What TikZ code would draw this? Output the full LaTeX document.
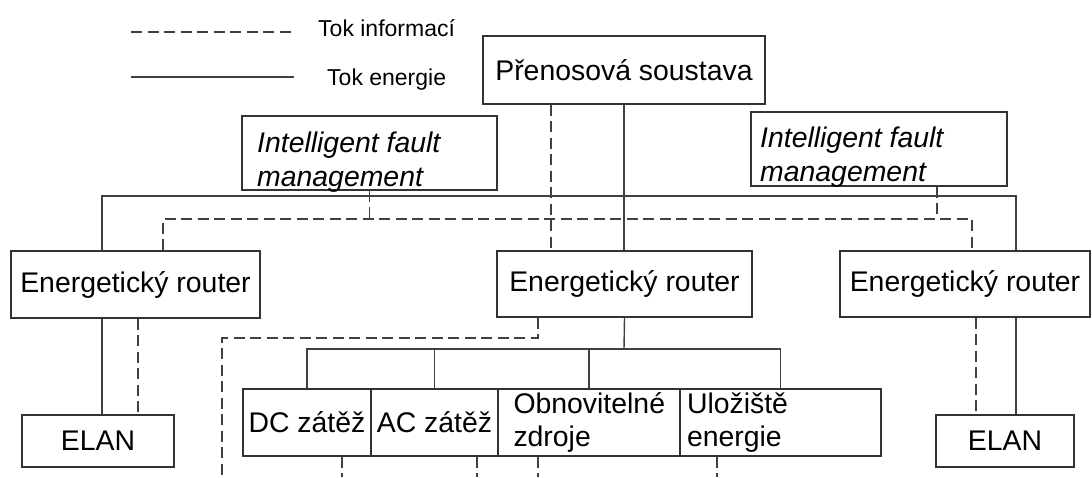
\documentclass[tikz,border=0pt]{standalone}
\usepackage{fontspec}
\setmainfont{Liberation Sans}
\begin{document}
\begin{tikzpicture}[x=1pt, y=-1pt,
    % Define styles - plain boxes, solid energy lines, dashed information lines
    box/.style={rectangle, draw=black!80, line width=1.4pt, inner sep=0pt, font=\fontsize{28.4}{33}\selectfont, align=center},
    ifmbox/.style={box, minimum width=256pt, minimum height=74pt},
    ifmtext/.style={inner sep=0pt, anchor=west, align=left, font=\fontsize{28.4}{34}\selectfont\itshape},
    router/.style={box, minimum height=67pt},
    elan/.style={box, minimum height=52pt},
    load/.style={box, minimum height=67pt},
    energy/.style={draw=black!75, line width=1.4pt},
    info/.style={energy, dash pattern=on 11pt off 5.5pt},
    legend/.style={inner sep=0pt, anchor=west, font=\fontsize{23}{28}\selectfont}
]
\useasboundingbox (0,0) rectangle (1092,477);

% Legend
\coordinate (infoA) at (131,32);
\coordinate (infoB) at (294,32);
\coordinate (energyA) at (131,77);
\coordinate (energyB) at (294,77);
\draw[info] (infoA) -- (infoB);
\draw[energy] (energyA) -- (energyB);
\node[legend] (infoText) at (318,28) {Tok informací};
\node[legend] (energyText) at (327,80) {Tok energie};

% Transmission system
\node[box, minimum width=282pt, minimum height=68pt] (grid) at (624,70) {Přenosová soustava};

% Fault management
\node[ifmbox, minimum width=255pt] (ifmLeft) at (369.5,153) {};
\node[ifmtext] (ifmLeftText) at (257,162) {Intelligent fault\\management};
\node[ifmbox] (ifmRight) at (879,149) {};
\node[ifmtext] (ifmRightText) at (760,157) {Intelligent fault\\management};

% Energy routers
\node[router, minimum width=249pt] (routerLeft) at (135.5,284.5) {Energetický router};
\node[router, minimum width=255pt, minimum height=66pt] (routerMid) at (624.5,284) {Energetický router};
\node[router, minimum width=250pt, minimum height=66pt] (routerRight) at (965,284) {Energetický router};

% Local networks
\node[elan, minimum width=152pt] (elanLeft) at (98,441) {ELAN};
\node[elan, minimum width=138pt] (elanRight) at (1005,441) {ELAN};

% Loads, sources and storage
\node[load, minimum width=128pt] (dcLoad) at (307,422.5) {DC zátěž};
\node[load, minimum width=127pt] (acLoad) at (434.5,422.5) {AC zátěž};
\node[load, minimum width=182pt, text width=151pt, align=left] (renew) at (589,422.5) {Obnovitelné\\zdroje};
\node[load, minimum width=201pt, text width=187pt, inner xsep=7pt, align=left] (storage) at (780.5,422.5) {Uložiště\\energie};

% Tap points
\coordinate (eLeft) at (102,196);
\coordinate (eRight) at (1016,196);
\coordinate (iLeft) at (163,219);
\coordinate (iRight) at (972,219);
\coordinate (ifmTap) at (937,219);
\coordinate (gridInfo) at (551,219);
\coordinate (elanLInfo) at (138,441);
\coordinate (elanRInfo) at (976,441);
\coordinate (busMid) at (624,349);
\coordinate (midInfo) at (538,338);
\coordinate (cutLeft) at (222,477);
\coordinate (cutDC) at (342,477);
\coordinate (cutAC) at (477,477);
\coordinate (cutRenew) at (538,477);
\coordinate (cutStorage) at (717,477);

% Energy flow
\draw[energy] (grid.south) -- (grid.south |- routerMid.north);
\draw[energy] (routerLeft.north -| eLeft) -- (eLeft) -- (eRight) -- (routerRight.north -| eRight);
\draw[energy] (routerLeft.south -| eLeft) -- (elanLeft.north -| eLeft);
\draw[energy] (routerRight.south -| eRight) -- (elanRight.north -| eRight);
\draw[energy] (routerMid.south) -- (busMid);
\draw[energy] (dcLoad.north) -- (dcLoad.north |- busMid) -- (storage.north |- busMid) -- (storage.north);
\draw[energy] (acLoad.north) -- (acLoad.north |- busMid);
\draw[energy] (renew.north) -- (renew.north |- busMid);

% Information flow
\draw[info] (grid.south -| gridInfo) -- (routerMid.north -| gridInfo);
\draw[info] (routerLeft.north -| iLeft) -- (iLeft) -- (iRight) -- (routerRight.north -| iRight);
\draw[info] (ifmLeft.south) -- (ifmLeft.south |- iLeft);
\draw[info] (ifmRight.south -| ifmTap) -- (ifmTap);
\draw[info] (routerLeft.south -| elanLInfo) -- (elanLeft.north -| elanLInfo);
\draw[info] (routerRight.south -| elanRInfo) -- (elanRight.north -| elanRInfo);
\draw[info] (routerMid.south -| midInfo) -- (midInfo) -| (cutLeft);
\draw[info] (dcLoad.south -| cutDC) -- (cutDC);
\draw[info] (acLoad.south -| cutAC) -- (cutAC);
\draw[info] (renew.south -| cutRenew) -- (cutRenew);
\draw[info] (storage.south -| cutStorage) -- (cutStorage);

\end{tikzpicture}
\end{document}
